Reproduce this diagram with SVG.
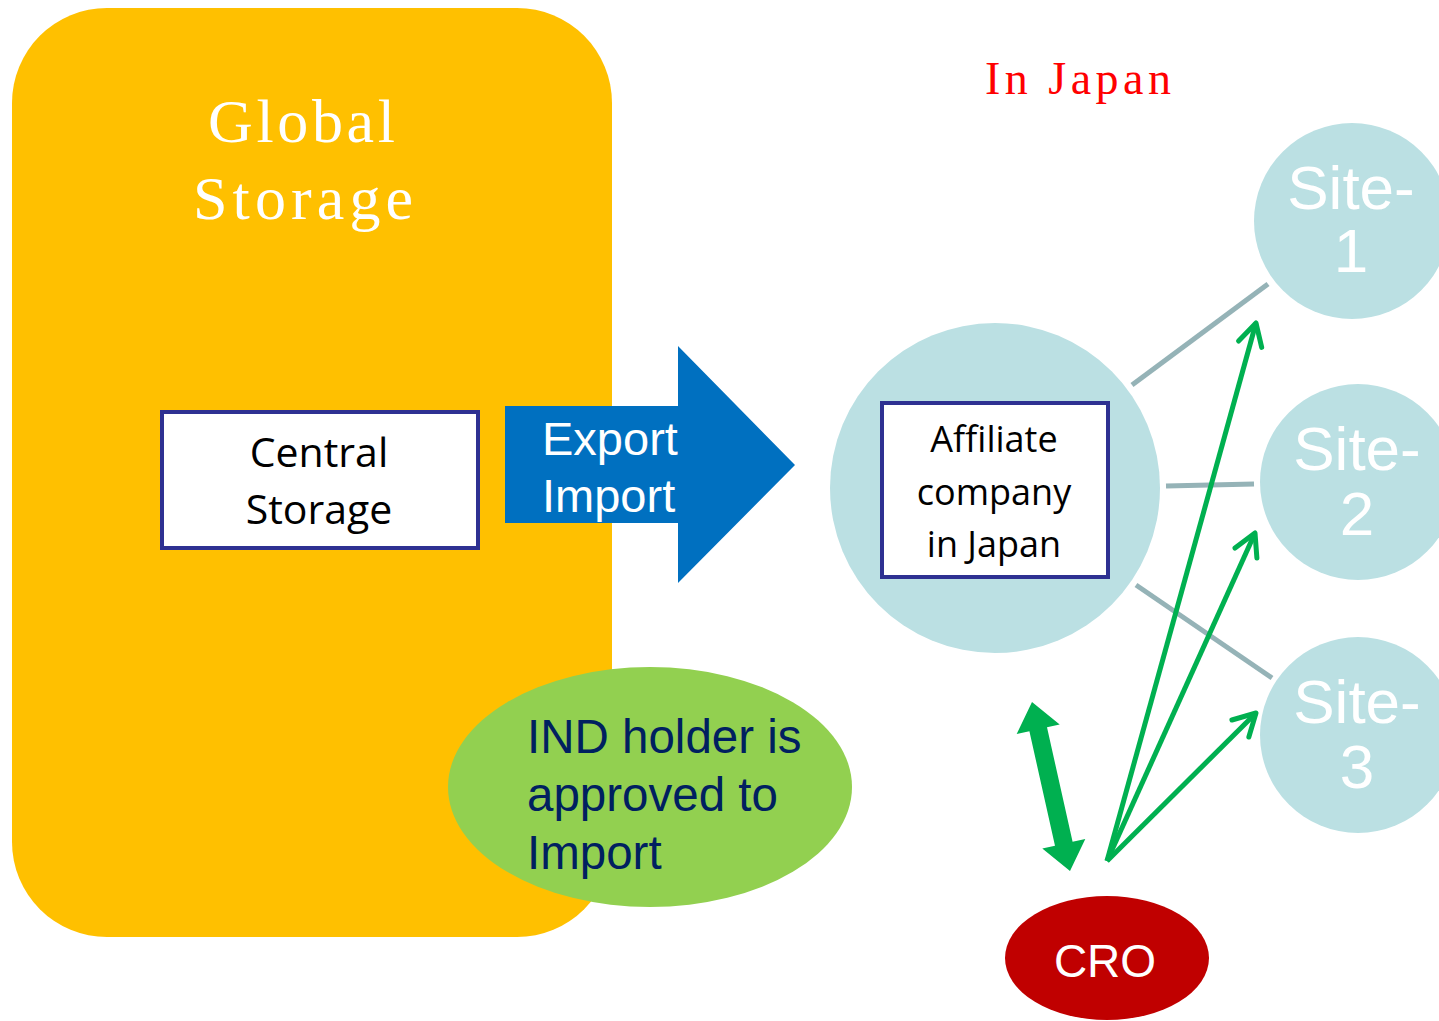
<svg xmlns="http://www.w3.org/2000/svg" width="1439" height="1021" viewBox="0 0 1439 1021">
<style>
.sans{font-family:"Liberation Sans",Arial,sans-serif}
.ui{font-family:"Open Sans","Liberation Sans",sans-serif}
.ser{font-family:"Liberation Serif","Times New Roman",serif}
.site{fill:#BBE0E3}
.sitet{fill:#fff;font-size:62px;text-anchor:middle}
.box{fill:#fff;stroke:#2E3192;stroke-width:4}
.gray{stroke:#95B3B7;stroke-width:5;fill:none}
.grn{stroke:#00B050;stroke-width:5;fill:none}
</style>
<defs>
<marker id="chev" markerUnits="userSpaceOnUse" viewBox="-26 -16 30 32" refX="0" refY="0" markerWidth="30" markerHeight="32" orient="auto">
<path d="M-22,-12 L0,0 L-22,12" fill="none" stroke="#00B050" stroke-width="5" stroke-linecap="round" stroke-linejoin="round"/>
</marker>
</defs>
<rect width="1439" height="1021" fill="#fff"/>

<g id="global-storage">
<rect x="12" y="8" width="600" height="929" rx="95" ry="95" fill="#FFC000"/>
<text class="ser" x="208" y="142" font-size="62" fill="#fff" textLength="187" lengthAdjust="spacing">Global</text>
<text class="ser" x="193" y="219" font-size="62" fill="#fff" textLength="220" lengthAdjust="spacing">Storage</text>
</g>

<g id="central-storage">
<rect class="box" x="162" y="412" width="316" height="136"/>
<text class="ui" x="319" y="467" font-size="41" text-anchor="middle">Central</text>
<text class="ui" x="319" y="524" font-size="41" text-anchor="middle">Storage</text>
</g>

<g id="export-import">
<polygon points="505,406 678,406 678,346 795,465 678,583 678,523 505,523" fill="#0070C0"/>
<text class="sans" x="542" y="455" font-size="47" fill="#fff">Export</text>
<text class="sans" x="542" y="512" font-size="47" fill="#fff">Import</text>
</g>

<g id="ind-holder">
<ellipse cx="650" cy="787" rx="202" ry="120" fill="#92D050"/>
<text class="sans" x="527" y="753" font-size="47.5" fill="#002060">IND holder is</text>
<text class="sans" x="527" y="811" font-size="47.5" fill="#002060">approved to</text>
<text class="sans" x="527" y="869" font-size="47.5" fill="#002060">Import</text>
</g>

<g id="in-japan">
<text class="ser" x="985" y="94" font-size="46" fill="#FF0000" textLength="186" lengthAdjust="spacing">In Japan</text>
</g>

<g id="connectors">
<line class="gray" x1="1132" y1="385" x2="1268" y2="284"/>
<line class="gray" x1="1166" y1="486" x2="1254" y2="484"/>
<line class="gray" x1="1136" y1="585" x2="1272" y2="678"/>
<line class="grn" x1="1107" y1="861" x2="1256" y2="323" marker-end="url(#chev)"/>
<line class="grn" x1="1107" y1="861" x2="1255" y2="533" marker-end="url(#chev)"/>
<line class="grn" x1="1107" y1="861" x2="1256" y2="713" marker-end="url(#chev)"/>
<polygon fill="#00B050" points="1032,702 1059.7,724.5 1047,727.3 1072.6,841.7 1085.3,838.9 1070,871 1042.3,848.5 1055,845.7 1029.4,731.3 1016.7,734.1"/>
</g>

<g id="affiliate">
<circle class="site" cx="995" cy="488" r="165"/>
<rect class="box" x="882" y="403" width="226" height="174"/>
<text class="ui" x="994" y="452" font-size="36" text-anchor="middle">Affiliate</text>
<text class="ui" x="994" y="505" font-size="36" text-anchor="middle">company</text>
<text class="ui" x="994" y="557" font-size="36" text-anchor="middle">in Japan</text>
</g>

<g id="site-1">
<circle class="site" cx="1352" cy="221" r="98"/>
<text class="sans sitet" x="1351" y="209">Site-</text>
<text class="sans sitet" x="1351" y="272">1</text>
</g>
<g id="site-2">
<circle class="site" cx="1358" cy="482" r="98"/>
<text class="sans sitet" x="1357" y="470">Site-</text>
<text class="sans sitet" x="1357" y="535">2</text>
</g>
<g id="site-3">
<circle class="site" cx="1358" cy="735" r="98"/>
<text class="sans sitet" x="1357" y="723">Site-</text>
<text class="sans sitet" x="1357" y="788">3</text>
</g>

<g id="cro">
<ellipse cx="1107" cy="958" rx="102" ry="62" fill="#C00000"/>
<text class="sans" x="1105" y="977" font-size="46" fill="#fff" text-anchor="middle">CRO</text>
</g>
</svg>
